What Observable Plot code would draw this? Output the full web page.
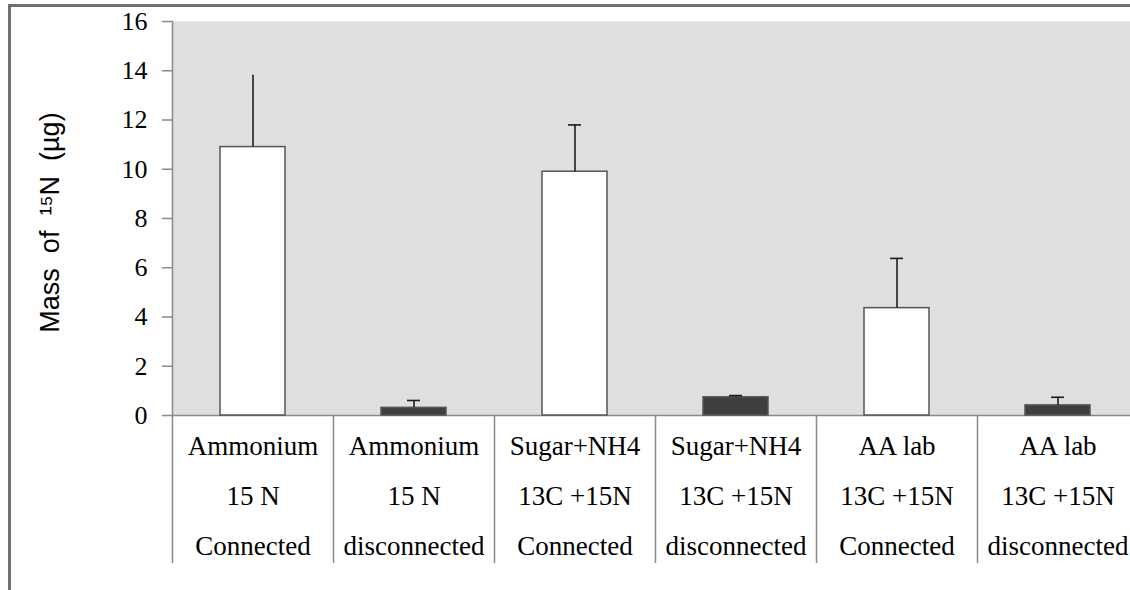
<!DOCTYPE html>
<html>
<head>
<meta charset="utf-8">
<script src="https://cdn.jsdelivr.net/npm/d3@7"></script>
<script src="https://cdn.jsdelivr.net/npm/@observablehq/plot@0.6"></script>
<style>
  html, body { margin: 0; padding: 0; background: white; overflow: hidden; }
  #wrap { position: relative; width: 1130px; height: 590px; overflow: hidden; }
  #border { position: absolute; left: 8px; top: 4px; width: 2000px; height: 2000px;
            border-top: 3px solid #707070; border-left: 3px solid #707070; pointer-events: none; }
</style>
</head>
<body>
<div id="wrap"><div id="border"></div></div>
<script>
// ---- data ----
const treatment = ["Ammonium", "Ammonium", "Sugar+NH4", "Sugar+NH4", "AA lab", "AA lab"];
const isotope   = ["15 N", "15 N", "13C +15N", "13C +15N", "13C +15N", "13C +15N"];
const status    = ["Connected", "disconnected", "Connected", "disconnected", "Connected", "disconnected"];
const means     = [10.9, 0.31, 9.9, 0.74, 4.36, 0.41];
const errors    = [2.92, 0.30, 1.9, 0.07, 2.02, 0.33];
const yTicks    = [0, 2, 4, 6, 8, 10, 12, 14, 16];
const yTitle    = "Mass  of  \u00B9\u2075N  (\u00B5g)";

const SERIF = "'Liberation Serif', 'Times New Roman', Tinos, 'DejaVu Serif', serif";
const SANS = "'Liberation Sans', Arial, Arimo, sans-serif";

const rows = treatment.map((t, i) => ({
  key: `${t}\n${isotope[i]}\n${status[i]}`,
  status: status[i],
  mean: means[i],
  top: means[i] + errors[i],
  cap: i > 0
}));
const keys = rows.map(d => d.key);

const chart = Plot.plot({
  width: 1130,
  height: 590,
  marginLeft: 172,
  marginRight: -8,
  marginTop: 21,
  marginBottom: 175,
  style: { background: "transparent", color: "black" },
  x: { domain: keys, padding: 0 },
  y: { domain: [0, 16] },
  color: { domain: ["Connected", "disconnected"], range: ["white", "#3f3f3f"] },
  marks: [
    Plot.frame({ fill: "#dfdfdf", stroke: null }),
    Plot.frame({ anchor: "left", stroke: "#8a8a8a", strokeWidth: 1.5 }),
    Plot.ruleY([0], { stroke: "#8a8a8a", strokeWidth: 1.5 }),
    Plot.barY(rows, { x: "key", y: "mean", fill: "status", stroke: "#555", strokeWidth: 1.5, insetLeft: 48, insetRight: 48 }),
    Plot.ruleX(rows, { x: "key", y1: "mean", y2: "top", stroke: "#1e1e1e", strokeWidth: 1.6 }),
    Plot.tickY(rows.filter(d => d.cap), { x: "key", y: "top", stroke: "#1e1e1e", strokeWidth: 1.6, insetLeft: 74, insetRight: 74 }),
    Plot.axisY({ ticks: yTicks, tickSize: 10, tickPadding: 15, fontSize: 26, fill: "black", stroke: "#8a8a8a", strokeWidth: 1.5, label: null, className: "serifText" }),
    Plot.axisX({ tickSize: 148, dx: -80.5, tickFormat: () => "", stroke: "#8a8a8a", strokeWidth: 1.5, label: null }),
    Plot.axisX({ tickSize: 0, tickPadding: 4, fontSize: 27, fill: "black", lineHeight: 1.852, label: null, tickFormat: d => d, className: "serifText" }),
    Plot.text([yTitle], { frameAnchor: "left", dx: -122, dy: 4, rotate: -90, fontSize: 27, textAnchor: "middle",
      fill: "black", className: "ytitle" })
  ]
});
document.getElementById("wrap").insertBefore(chart, document.getElementById("border"));
chart.style.position = "absolute";
chart.style.left = "0px";
chart.style.top = "0px";
chart.style.maxWidth = "none";
// apply font families inline on each text element
d3.select(chart).selectAll("text").each(function () {
  const isTitle = this.closest(".ytitle") || this.classList.contains("ytitle");
  const fam = isTitle ? SANS : SERIF;
  this.setAttribute("font-family", fam);
  this.style.setProperty("font-family", fam, "important");
});
</script>
</body>
</html>
